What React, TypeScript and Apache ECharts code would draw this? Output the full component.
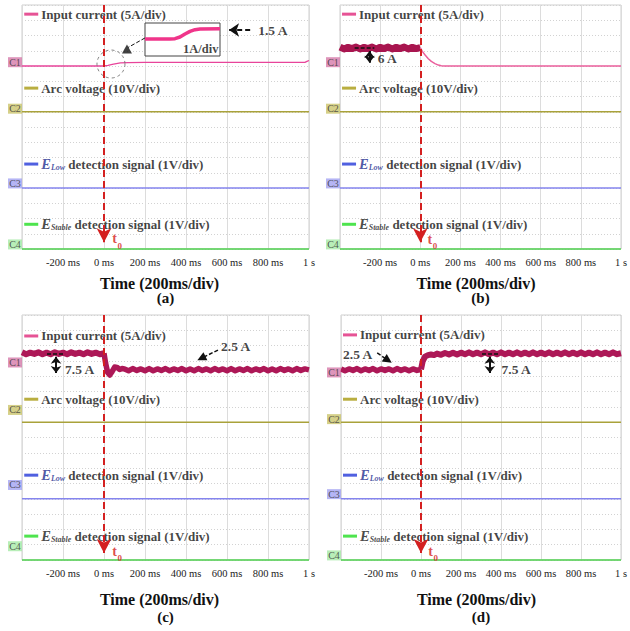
import React, { useEffect, useRef } from "react";
import * as echarts from "echarts";

const FONT = '"Liberation Serif", "Times New Roman", Times, serif';

// ---------- axes ----------
const TIME_MIN_MS = -400;
const TIME_MAX_MS = 1000;
const TIME_STEP_MS = 200;
const DIVISIONS = 16;

// channel ground level (division counted from top) and units per division
const CH_GROUND = [4, 7, 12, 16];
const CH_PER_DIV = [5, 10, 1, 1];
const CHANNEL_TAGS = ["C1", "C2", "C3", "C4"];
const PANEL_LABELS = ["(a)", "(b)", "(c)", "(d)"];

// ---------- data (time ms, value in channel units) ----------
const A_CURRENT: [number, number][] = [[-400, 0], [0, 0], [20, 0.2], [40, 0.5], [60, 0.8], [80, 1.0], [120, 1.1], [200, 1.2], [980, 1.2], [990, 1.5], [1000, 1.8]];
const A_INSET_CURRENT: [number, number][] = [[-60, 0], [-10, 0], [0, 0.05], [10, 0.3], [20, 0.75], [30, 1.15], [40, 1.4], [50, 1.5], [90, 1.55]];

const B_CURRENT_PRE: [number, number][] = [[-400, 6.2], [-380, 5.6], [-360, 6.1], [-340, 5.7], [-320, 6.2], [-300, 5.6], [-280, 6.1], [-260, 5.7], [-240, 6.2], [-220, 5.6], [-200, 6.1], [-180, 5.7], [-160, 6.2], [-140, 5.6], [-120, 6.1], [-100, 5.7], [-80, 6.2], [-60, 5.6], [-40, 6.1], [-20, 5.7], [0, 6.0]];
const B_CURRENT_POST: [number, number][] = [[0, 6.0], [10, 4.8], [24, 3.6], [40, 2.4], [55, 1.5], [73, 0.8], [90, 0.3], [104, 0.05], [120, 0], [1000, 0]];

const C_CURRENT_PRE: [number, number][] = [[-400, 7.8], [-380, 7.2], [-360, 7.7], [-340, 7.3], [-320, 7.8], [-300, 7.2], [-280, 7.7], [-260, 7.2], [-240, 7.8], [-220, 7.3], [-200, 7.7], [-180, 7.2], [-160, 7.8], [-140, 7.3], [-120, 7.7], [-100, 7.2], [-80, 7.8], [-60, 7.3], [-40, 7.7], [-20, 7.2], [0, 7.5]];
const C_CURRENT_POST: [number, number][] = [[0, 7.5], [8, 4.2], [18, 1.2], [28, 0.4], [40, 1.6], [52, 3.0], [64, 2.9], [76, 2.2], [88, 2.5], [100, 2.4], [120, 1.8], [140, 2.5], [160, 1.9], [180, 2.4], [200, 1.8], [220, 2.5], [240, 1.8], [260, 2.4], [280, 1.9], [300, 2.5], [320, 1.8], [340, 2.4], [360, 1.9], [380, 2.5], [400, 1.8], [420, 2.4], [440, 1.8], [460, 2.5], [480, 1.9], [500, 2.4], [520, 1.8], [540, 2.5], [560, 1.9], [580, 2.4], [600, 1.8], [620, 2.5], [640, 1.8], [660, 2.4], [680, 1.9], [700, 2.5], [720, 1.8], [740, 2.4], [760, 1.9], [780, 2.5], [800, 1.8], [820, 2.4], [840, 1.8], [860, 2.5], [880, 1.9], [900, 2.4], [920, 1.8], [940, 2.5], [960, 1.9], [980, 2.4], [1000, 2.1]];

const D_CURRENT_PRE: [number, number][] = [[-400, 2.4], [-380, 1.8], [-360, 2.4], [-340, 1.9], [-320, 2.5], [-300, 1.8], [-280, 2.4], [-260, 1.9], [-240, 2.5], [-220, 1.8], [-200, 2.4], [-180, 1.9], [-160, 2.4], [-140, 1.8], [-120, 2.5], [-100, 1.9], [-80, 2.4], [-60, 1.8], [-40, 2.4], [-20, 1.9], [0, 2.2]];
const D_CURRENT_POST: [number, number][] = [[0, 2.2], [8, 4.8], [20, 6.4], [35, 6.9], [50, 7.1], [65, 6.9], [80, 7.4], [100, 7.0], [120, 7.6], [140, 7.1], [160, 7.7], [180, 7.1], [200, 7.7], [220, 7.2], [240, 7.8], [260, 7.2], [280, 7.7], [300, 7.2], [320, 7.8], [340, 7.2], [360, 7.7], [380, 7.2], [400, 7.8], [420, 7.2], [440, 7.7], [460, 7.2], [480, 7.8], [500, 7.2], [520, 7.7], [540, 7.2], [560, 7.8], [580, 7.2], [600, 7.7], [620, 7.2], [640, 7.8], [660, 7.2], [680, 7.7], [700, 7.2], [720, 7.8], [740, 7.2], [760, 7.7], [780, 7.2], [800, 7.8], [820, 7.2], [840, 7.7], [860, 7.2], [880, 7.8], [900, 7.2], [920, 7.7], [940, 7.2], [960, 7.8], [980, 7.2], [1000, 7.5]];

const ARC_VOLTAGE: [number, number][] = [[-400, 0], [1000, 0]];
const E_LOW_SIGNAL: [number, number][] = [[-400, 0], [1000, 0]];
const E_STABLE_SIGNAL: [number, number][] = [[-400, 0], [1000, 0]];

// ---------- styling / layout ----------
const GRID_RECTS = [
  { left: 22, top: 5, width: 287, height: 244 },
  { left: 340, top: 5, width: 286, height: 244 },
  { left: 22, top: 315, width: 287, height: 245 },
  { left: 341, top: 315, width: 285, height: 245 },
];
const INSET_RECT = { left: 145, top: 23, width: 75, height: 33 };

const C1_THIN = "#e8449a";
const C1_THICK = "#ad1857";
const TRACE_COLORS = ["#e8449a", "#a9a23a", "#8585ee", "#4fd24f"];
const LEGEND_COLORS = ["#e0287a", "#a89a10", "#2438d8", "#22dd22"];
const TAG_COLORS = ["#d67aaa", "#cbc46c", "#a3a3f2", "#a6eaa6"];

const C1_SEGMENTS = [
  [{ data: A_CURRENT, color: C1_THIN, width: 1.3 }],
  [{ data: B_CURRENT_PRE, color: "#a8154f", width: 7 }, { data: B_CURRENT_POST, color: "#ea5f9c", width: 1.5 }],
  [{ data: C_CURRENT_PRE, color: C1_THICK, width: 6 }, { data: C_CURRENT_POST, color: C1_THICK, width: 5.5 }],
  [{ data: D_CURRENT_PRE, color: C1_THICK, width: 5.5 }, { data: D_CURRENT_POST, color: C1_THICK, width: 6 }],
];

const TAG_DIVS = [
  [3.75, 6.8, 11.7, 15.7],
  [3.75, 6.8, 11.7, 15.7],
  [3.1, 6.2, 11.1, 15.1],
  [3.75, 6.8, 11.7, 15.7],
];
const LEGEND_DIVS = [
  [0.6, 5.45, 10.43, 14.38],
  [0.6, 5.45, 10.43, 14.38],
  [1.37, 5.5, 10.46, 14.44],
  [1.3, 5.5, 10.46, 14.44],
];
const T0_POS = [[40, 15.33], [36, 15.35], [40, 15.42], [36, 15.42]];

const toDiv = (d: [number, number][], ch: number) => d.map(([t, v]) => [t, CH_GROUND[ch] - v / CH_PER_DIV[ch]]);

const boldText = (size: number) => ({ fontFamily: FONT, fontWeight: "bold" as const, fontSize: size, color: "#111" });

function legendItem(p: number, k: number) {
  const base: any = {
    value: [-355, LEGEND_DIVS[p][k]],
    symbol: "rect",
    symbolSize: [14, 3],
    itemStyle: { color: LEGEND_COLORS[k] },
  };
  let label: any;
  if (k === 0) label = { formatter: "Input current (5A/div)", ...boldText(13), lineHeight: 13 };
  else if (k === 1) label = { formatter: "Arc voltage (10V/div)", ...boldText(13), lineHeight: 13 };
  else {
    const sub = k === 2 ? "Low" : "Stable";
    const ec = k === 2 ? "#1f2f8f" : "#1a1a1a";
    label = {
      formatter: `{e|E}{s|${sub}}{t| detection signal (1V/div)}`,
      rich: {
        e: { fontFamily: FONT, fontStyle: "italic", fontWeight: "bold", fontSize: 14.5, color: ec, lineHeight: 13 },
        s: { fontFamily: FONT, fontStyle: "italic", fontWeight: "bold", fontSize: 8, color: ec, padding: [7, 0, 0, 0], lineHeight: 15 },
        t: { fontFamily: FONT, fontWeight: "bold", fontSize: 13, color: "#111", lineHeight: 13 },
      },
    };
  }
  base.label = { show: true, position: "right", distance: 3, ...label };
  return base;
}

function tagItem(p: number, k: number) {
  return {
    value: [TIME_MIN_MS, TAG_DIVS[p][k]],
    symbol: "rect",
    symbolSize: [14, 10],
    symbolOffset: [-7, 0],
    itemStyle: { color: TAG_COLORS[k] },
    label: { show: true, position: "inside", formatter: CHANNEL_TAGS[k], fontFamily: FONT, fontSize: 10, color: "#333" },
  };
}

const textNote = (x: number, y: number, text: string, size = 13.5, color = "#111") => ({
  value: [x, y],
  symbolSize: 0,
  label: { show: true, position: "right", distance: 0, formatter: text, ...boldText(size), color, lineHeight: Math.round(size * 0.9) },
});

const dashedSeg = (a: number[], b: number[], w = 1.5) => [
  { coord: a, symbol: "none", lineStyle: { color: "#111", type: [4, 2], width: w } },
  { coord: b, symbol: "none" },
];
const doubleArrow = (x: number, y1: number, y2: number) => [
  { coord: [x, y1 + 0.22], symbol: "arrow", symbolSize: [8, 7], lineStyle: { color: "#111", type: "solid", width: 2 } },
  { coord: [x, y2 - 0.22], symbol: "arrow", symbolSize: [8, 7] },
];
const pointer = (a: number[], b: number[]) => [
  { coord: a, symbol: "none", lineStyle: { color: "#111", type: [4, 2], width: 1.5 } },
  { coord: b, symbol: "triangle", symbolSize: [9, 9] },
];

function notesFor(p: number) {
  const [tx, ty] = T0_POS[p];
  const data: any[] = [
    textNote(tx, ty, "t", 14, "#d42020"),
    textNote(tx + 26, ty + 0.45, "0", 9, "#d42020"),
  ];
  const lines: any[] = [
    [
      { coord: [0, 0], symbol: "none", lineStyle: { color: "#d42020", type: [7, 4], width: 2 } },
      { coord: [0, 15.55], symbol: "arrow", symbolSize: [11, 14] },
    ],
  ];
  if (p === 0) {
    data.push({ value: [34, 3.87], symbol: "circle", symbolSize: 28, itemStyle: { color: "rgba(0,0,0,0)", borderColor: "#666", borderWidth: 1, borderType: [3, 3] } });
    data.push({ value: [112, 2.89], symbol: "triangle", symbolSize: [10, 9], itemStyle: { color: "#111" } });
    data.push(textNote(752, 1.64, "1.5 A"));
    lines.push(dashedSeg([200, 2.16], [118, 2.78], 1));
    lines.push([
      { coord: [713, 1.64], symbol: "none", lineStyle: { color: "#111", type: [5, 3], width: 2 } },
      { coord: [610, 1.64], symbol: "arrow", symbolSize: [10, 10] },
    ]);
  } else if (p === 1) {
    data.push(textNote(-212, 3.5, "6 A"));
    lines.push(dashedSeg([-327, 2.8], [-229, 2.8]));
    lines.push(doubleArrow(-253, 2.8, 4.0));
  } else if (p === 2) {
    data.push(textNote(-190, 3.53, "7.5 A"));
    data.push(textNote(571, 2.07, "2.5 A"));
    lines.push(dashedSeg([-278, 2.5], [-190, 2.5]));
    lines.push(doubleArrow(-234, 2.5, 4.0));
    lines.push(pointer([556, 2.29], [475, 2.82]));
  } else {
    data.push(textNote(-390, 2.6, "2.5 A"));
    data.push(textNote(403, 3.53, "7.5 A"));
    lines.push(dashedSeg([305, 2.5], [393, 2.5]));
    lines.push(doubleArrow(344, 2.5, 4.0));
    lines.push(pointer([-219, 2.48], [-165, 2.95]));
  }
  return {
    type: "scatter",
    xAxisIndex: p,
    yAxisIndex: p,
    clip: false,
    silent: true,
    z: 6,
    data,
    markLine: { silent: true, animation: false, label: { show: false }, data: lines },
  };
}

function buildOption() {
  const grid: any[] = GRID_RECTS.map((r) => ({ ...r, show: true, borderColor: "#cfcfcf", borderWidth: 1 }));
  grid.push({ ...INSET_RECT, show: true, backgroundColor: "#ffffff", borderColor: "#444", borderWidth: 1, z: 10 });

  const xAxis: any[] = GRID_RECTS.map((_, p) => ({
    gridIndex: p,
    type: "value",
    min: TIME_MIN_MS,
    max: TIME_MAX_MS,
    interval: TIME_STEP_MS,
    axisLine: { show: false },
    axisTick: { show: false },
    axisLabel: {
      formatter: (v: number) => (v === TIME_MIN_MS ? "" : v === 1000 ? "1 s" : `${v} ms`),
      fontFamily: FONT,
      fontSize: 10.5,
      color: "#222",
      margin: 8,
      showMinLabel: true,
      showMaxLabel: true,
      hideOverlap: false,
    },
    splitLine: { show: true, lineStyle: { color: "#dcdcdc", width: 1 } },
    name: `{t|Time (200ms/div)}\n{p|${PANEL_LABELS[p]}}`,
    nameLocation: "middle",
    nameGap: p < 2 ? 26.5 : 31.5,
    nameTextStyle: {
      rich: {
        t: { fontFamily: FONT, fontWeight: "bold", fontSize: 16, color: "#111", lineHeight: 15, padding: [0, p % 2 === 0 ? 12 : 9, 0, 0] },
        p: { fontFamily: FONT, fontWeight: "bold", fontSize: 15, color: "#111", lineHeight: p < 2 ? 15 : 21 },
      },
    },
  }));
  xAxis.push({ gridIndex: 4, type: "value", min: -60, max: 90, show: false });

  const yAxis: any[] = GRID_RECTS.map((_, p) => ({
    gridIndex: p,
    type: "value",
    inverse: true,
    min: 0,
    max: DIVISIONS,
    interval: 1,
    axisLine: { show: false },
    axisTick: { show: false },
    axisLabel: { show: false },
    splitLine: { show: true, lineStyle: { color: "#d2d2d2", type: [1, 2] } },
  }));
  yAxis.push({ gridIndex: 4, type: "value", min: -2.55, max: 2.4, show: false });

  const series: any[] = [];
  for (let p = 0; p < 4; p++) {
    const ax = { xAxisIndex: p, yAxisIndex: p };
    C1_SEGMENTS[p].forEach((seg) =>
      series.push({ type: "line", ...ax, data: toDiv(seg.data, 0), symbol: "none", silent: true, z: 3, lineStyle: { color: seg.color, width: seg.width, join: "round" } })
    );
    [ARC_VOLTAGE, E_LOW_SIGNAL, E_STABLE_SIGNAL].forEach((d, i) => {
      const ch = i + 1;
      series.push({ type: "line", ...ax, data: toDiv(d, ch), symbol: "none", silent: true, clip: false, z: 3, lineStyle: { color: TRACE_COLORS[ch], width: ch === 2 ? 1.3 : 1.6 } });
    });
    series.push({ type: "scatter", ...ax, clip: false, silent: true, z: 4, data: [0, 1, 2, 3].map((k) => tagItem(p, k)) });
    series.push({ type: "scatter", ...ax, clip: false, silent: true, z: 4, data: [0, 1, 2, 3].map((k) => legendItem(p, k)) });
    series.push(notesFor(p));
  }
  // inset of panel (a)
  series.push({ type: "line", xAxisIndex: 4, yAxisIndex: 4, data: A_INSET_CURRENT, symbol: "none", silent: true, z: 12, lineStyle: { color: "#f0358a", width: 3.5 } });
  series.push({
    type: "scatter", xAxisIndex: 4, yAxisIndex: 4, z: 12, silent: true, clip: false,
    data: [{ value: [87, -1.55], symbolSize: 0, label: { show: true, position: "left", distance: 0, formatter: "1A/div", ...boldText(12.5) } }],
  });

  return { animation: false, backgroundColor: "#ffffff", grid, xAxis, yAxis, series };
}

export default function App() {
  const ref = useRef<HTMLDivElement>(null);
  useEffect(() => {
    document.body.style.margin = "0";
    const chart = echarts.init(ref.current as HTMLDivElement, null, { renderer: "svg" });
    chart.setOption(buildOption() as any);
    return () => chart.dispose();
  }, []);
  return <div ref={ref} style={{ width: 630, height: 631 }} />;
}
